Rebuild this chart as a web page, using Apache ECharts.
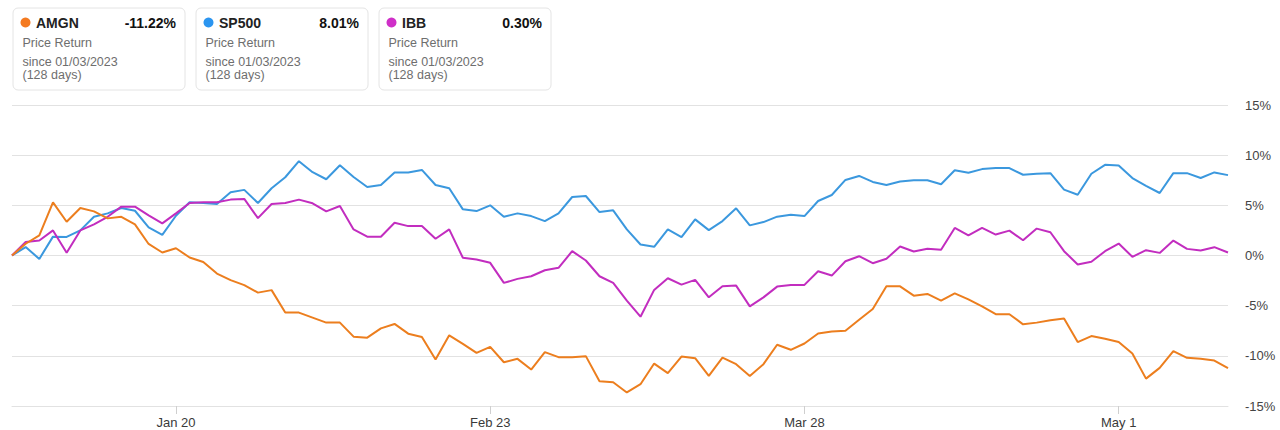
<!DOCTYPE html>
<html>
<head>
<meta charset="utf-8">
<script src="https://cdn.jsdelivr.net/npm/echarts@6/dist/echarts.min.js"></script>
<style>
html,body{margin:0;padding:0;background:#fff;}
#chart{width:1280px;height:430px;}
</style>
</head>
<body>
<div id="chart"></div>
<script>
// Trading days (categories)
const dates = [
 'Jan 3','Jan 4','Jan 5','Jan 6','Jan 9','Jan 10','Jan 11','Jan 12','Jan 13','Jan 17','Jan 18','Jan 19','Jan 20',
 'Jan 23','Jan 24','Jan 25','Jan 26','Jan 27','Jan 30','Jan 31',
 'Feb 1','Feb 2','Feb 3','Feb 6','Feb 7','Feb 8','Feb 9','Feb 10','Feb 13','Feb 14','Feb 15','Feb 16','Feb 17','Feb 21','Feb 22','Feb 23',
 'Feb 24','Feb 27','Feb 28',
 'Mar 1','Mar 2','Mar 3','Mar 6','Mar 7','Mar 8','Mar 9','Mar 10','Mar 13','Mar 14','Mar 15','Mar 16','Mar 17','Mar 20','Mar 21','Mar 22','Mar 23','Mar 24','Mar 27','Mar 28',
 'Mar 29','Mar 30','Mar 31',
 'Apr 3','Apr 4','Apr 5','Apr 6','Apr 10','Apr 11','Apr 12','Apr 13','Apr 14','Apr 17','Apr 18','Apr 19','Apr 20','Apr 21','Apr 24','Apr 25','Apr 26','Apr 27','Apr 28',
 'May 1','May 2','May 3','May 4','May 5','May 8','May 9','May 10','May 11'
];
const xTickLabels = ['Jan 20','Feb 23','Mar 28','May 1'];

const amgn = [
 0, 1.17, 2.0, 5.3, 3.36, 4.73, 4.4, 3.7, 3.86, 3.1, 1.15, 0.3, 0.72,
 -0.2, -0.65, -1.8, -2.45, -2.95, -3.7, -3.45,
 -5.69, -5.69, -6.19, -6.69, -6.69, -8.09, -8.19, -7.26, -6.82, -7.79, -8.12, -10.37, -7.96, -8.8, -9.7, -9.1,
 -10.64, -10.3, -11.37,
 -9.63, -10.13, -10.13, -10.03, -12.54, -12.64, -13.65, -12.83, -10.77, -11.73, -10.07, -10.23, -12.0, -10.17, -10.83, -12.0, -10.83, -8.9, -9.4, -8.77,
 -7.77, -7.57, -7.5,
 -6.4, -5.33, -3.07, -3.07, -4.0, -3.83, -4.5, -3.77, -4.38, -5.08, -5.85, -5.85, -6.86, -6.69, -6.45, -6.29, -8.63, -8.03, -8.29,
 -8.63, -9.77, -12.27, -11.2, -9.53, -10.2, -10.3, -10.47, -11.22
];
const sp500 = [
 0, 0.84, -0.34, 1.88, 1.85, 2.5, 3.86, 4.2, 4.73, 4.46, 2.8, 2.05, 3.96,
 5.3, 5.23, 5.13, 6.3, 6.54, 5.23, 6.7,
 7.8, 9.4, 8.3, 7.6, 9.0, 7.83, 6.83, 7.03, 8.27, 8.27, 8.53, 7.03, 6.7, 4.6, 4.43, 5.0,
 3.87, 4.2, 3.93,
 3.43, 4.2, 5.83, 5.93, 4.33, 4.5, 2.6, 1.1, 0.87, 2.6, 1.83, 3.6, 2.53, 3.43, 4.7, 3.0, 3.33, 3.87, 4.07, 3.93,
 5.43, 6.03, 7.53,
 7.93, 7.33, 7.03, 7.37, 7.5, 7.5, 7.1, 8.5, 8.24, 8.61, 8.71, 8.71, 8.05, 8.15, 8.21, 6.56, 6.06, 8.15, 9.04,
 8.97, 7.72, 6.95, 6.23, 8.21, 8.21, 7.72, 8.28, 8.01
];
const ibb = [
 0, 1.34, 1.5, 2.5, 0.27, 2.5, 3.1, 3.86, 4.87, 4.87, 4.0, 3.2, 4.2,
 5.23, 5.3, 5.3, 5.57, 5.64, 3.72, 5.13,
 5.23, 5.57, 5.2, 4.4, 4.93, 2.6, 1.87, 1.87, 3.27, 2.93, 2.93, 1.67, 2.6, -0.23, -0.4, -0.73,
 -2.73, -2.33, -2.07,
 -1.47, -1.23, 0.43, -0.5, -2.07, -2.73, -4.5, -6.1, -3.43, -2.27, -2.9, -2.43, -4.17, -3.07, -3.0, -5.07, -4.17, -3.1, -2.93, -2.93,
 -1.57, -2.0, -0.57,
 -0.07, -0.77, -0.33, 0.9, 0.4, 0.67, 0.57, 2.75, 2.0, 2.75, 2.09, 2.48, 1.52, 2.68, 2.32, 0.43, -0.89, -0.63, 0.43,
 1.19, -0.13, 0.53, 0.26, 1.49, 0.66, 0.5, 0.83, 0.30
];

const seriesNames = ['AMGN','SP500','IBB'];
const seriesColors = ['#EC7E1E','#3B98DE','#C22DBF'];
const dotColors = ['#F47A20','#2B95F0','#CF2FC8'];
const totalReturns = ['-11.22%','8.01%','0.30%'];
const cardLine1 = 'Price Return';
const cardLine2 = 'since 01/03/2023';
const cardLine3 = '(128 days)';
const yTicks = {min: -15, max: 15, step: 5};

const FONT = '"Liberation Sans", Arial, Helvetica, sans-serif';
const chart = echarts.init(document.getElementById('chart'), null, {renderer: 'svg'});

const allData = [amgn, sp500, ibb];
const tickIdx = xTickLabels.map(l => dates.indexOf(l));

const graphics = [];
const cardX = [12.5, 195.5, 378.5];
seriesNames.forEach((name, k) => {
  const x0 = cardX[k];
  graphics.push({
    type: 'group', left: x0, top: 7.5,
    children: [
      {type: 'rect', shape: {x: 0, y: 0, width: 172, height: 82, r: 5},
       style: {fill: '#fff', stroke: '#e4e4e4', lineWidth: 1}},
      {type: 'circle', shape: {cx: 12.5, cy: 14.5, r: 5}, style: {fill: dotColors[k]}},
      {type: 'text', x: 23, y: 15, style: {text: name, font: 'bold 14px ' + FONT, fill: '#222', verticalAlign: 'middle'}},
      {type: 'text', x: 163, y: 15, style: {text: totalReturns[k], font: 'bold 14px ' + FONT, fill: '#111', align: 'right', verticalAlign: 'middle'}},
      {type: 'text', x: 9.5, y: 35, style: {text: cardLine1, font: '12.5px ' + FONT, fill: '#6e6e6e', verticalAlign: 'middle'}},
      {type: 'text', x: 9.5, y: 53.5, style: {text: cardLine2, font: '12.5px ' + FONT, fill: '#6e6e6e', verticalAlign: 'middle'}},
      {type: 'text', x: 9.5, y: 67, style: {text: cardLine3, font: '12.5px ' + FONT, fill: '#6e6e6e', verticalAlign: 'middle'}}
    ]
  });
});

chart.setOption({
  animation: false,
  textStyle: {fontFamily: FONT},
  grid: {left: 12, right: 52, top: 105, bottom: 24, containLabel: false},
  xAxis: {
    type: 'category',
    data: dates,
    boundaryGap: false,
    axisLine: {show: true, onZero: false, lineStyle: {color: '#e2e2e2', width: 1}},
    axisTick: {show: true, length: 8, lineStyle: {color: '#cfcfcf'}, interval: (i) => tickIdx.includes(i)},
    axisLabel: {interval: (i) => tickIdx.includes(i), color: '#3a3a3a', fontSize: 13, margin: 10, fontFamily: FONT},
    splitLine: {show: false}
  },
  yAxis: {
    type: 'value',
    position: 'right',
    min: yTicks.min, max: yTicks.max, interval: yTicks.step,
    axisLine: {show: false},
    axisTick: {show: false},
    axisLabel: {formatter: '{value}%', color: '#444', fontSize: 13, margin: 17, align: 'left', fontFamily: FONT},
    splitLine: {lineStyle: {color: '#e2e2e2', width: 1}}
  },
  graphic: graphics,
  series: seriesNames.map((n, k) => ({
    name: n, type: 'line', data: allData[k], showSymbol: false, symbol: 'none',
    lineStyle: {color: seriesColors[k], width: 2}, itemStyle: {color: seriesColors[k]},
    z: k === 1 ? 2 : (k === 2 ? 3 : 4)
  }))
});
</script>
</body>
</html>
